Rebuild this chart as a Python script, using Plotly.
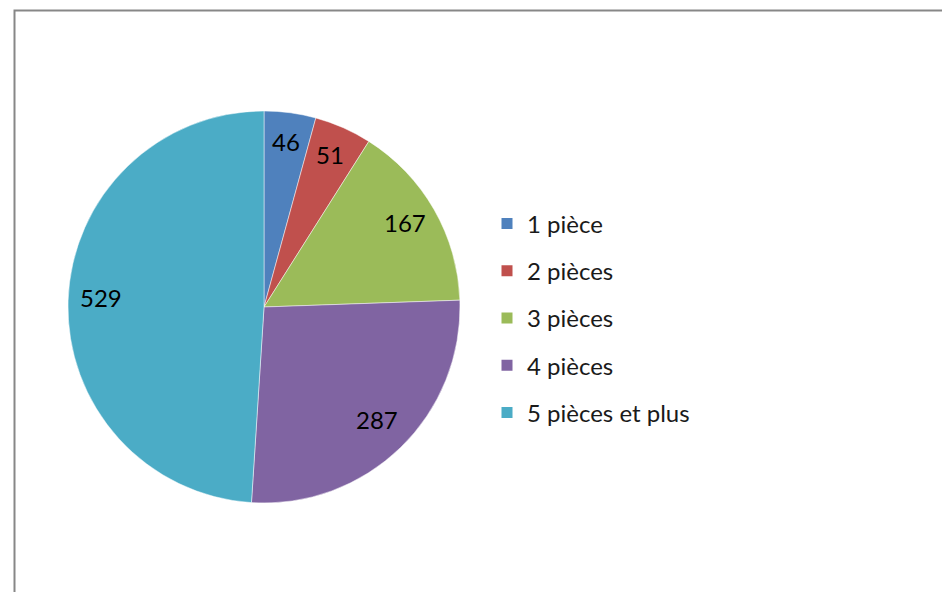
import math

import plotly.graph_objects as go

W, H = 950, 592
OFF = 8  # page body margin shifts the figure by 8px

labels = ["1 pièce", "2 pièces", "3 pièces", "4 pièces", "5 pièces et plus"]
values = [46, 51, 167, 287, 529]
colors = ["#4F81BD", "#C0504D", "#9BBB59", "#8064A2", "#4BACC6"]

FONT = "Lato"

# pie geometry in figure pixels (centre, radius)
cx, cy, r = 264 - OFF, 307 - OFF, 196
dom_x = [(cx - r) / W, (cx + r) / W]
dom_y = [(H - cy - r) / H, (H - cy + r) / H]

fig = go.Figure()
fig.add_trace(
    go.Pie(
        labels=labels,
        values=values,
        sort=False,
        direction="clockwise",
        rotation=0,
        marker={"colors": colors, "line": {"color": "rgba(255,255,255,0.6)", "width": 0.8}},
        textinfo="none",
        hoverinfo="label+value",
        domain={"x": dom_x, "y": dom_y},
        showlegend=False,
    )
)

# legend entries as square markers, one group each for the spacing
for i, (lab, col) in enumerate(zip(labels, colors)):
    fig.add_trace(
        go.Scatter(
            x=[None],
            y=[None],
            mode="markers",
            name=lab,
            legendgroup=f"g{i}",
            marker={"symbol": "square", "size": 11, "color": col},
        )
    )

# data labels at ~0.82 of the radius, at each slice's mid-angle
total = sum(values)
annotations = []
cum = 0
for v in values:
    mid = (cum + v / 2) / total * 2 * math.pi
    cum += v
    px_x = cx + 0.83 * r * math.sin(mid)
    px_y = (H - cy) + 0.83 * r * math.cos(mid) + 4
    annotations.append(
        dict(
            x=px_x / W,
            y=px_y / H,
            xref="paper",
            yref="paper",
            xanchor="center",
            yanchor="middle",
            text=str(v),
            showarrow=False,
            font={"family": FONT, "size": 24, "color": "#000000"},
        )
    )

fig.update_layout(
    width=W,
    height=H,
    margin={"l": 0, "r": 0, "t": 0, "b": 0},
    paper_bgcolor="white",
    plot_bgcolor="white",
    xaxis={"visible": False},
    yaxis={"visible": False},
    annotations=annotations,
    legend={
        "x": (487 - OFF) / W,
        "xanchor": "left",
        "y": (H - 318 + OFF) / H,
        "yanchor": "middle",
        "font": {"family": FONT, "size": 24, "color": "#1a1a1a"},
        "tracegroupgap": 13,
        "bgcolor": "rgba(0,0,0,0)",
    },
    shapes=[
        dict(
            type="rect",
            xref="paper",
            yref="paper",
            x0=(14.5 - OFF) / W,
            x1=1.05,
            y0=-0.05,
            y1=(H - 10.5 + OFF) / H,
            line={"color": "#878787", "width": 2},
        )
    ],
)

fig.write_html("out.html")
